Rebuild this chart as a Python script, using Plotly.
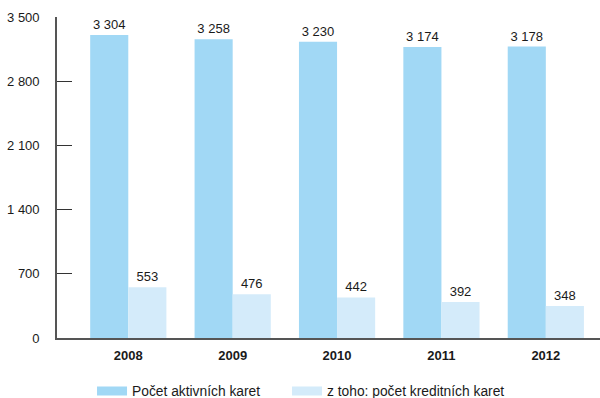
import plotly.graph_objects as go

years = ["2008", "2009", "2010", "2011", "2012"]
active_cards = [3304, 3258, 3230, 3174, 3178]
credit_cards = [553, 476, 442, 392, 348]
series_names = ["Počet aktivních karet", "z toho: počet kreditních karet"]
y_ticks = [0, 700, 1400, 2100, 2800, 3500]

dark = "#A1D8F5"
light = "#D4EBFA"
font_family = "Liberation Sans, Arial, sans-serif"
text_color = "#1a1a1a"

fig = go.Figure()
for vals, col in [(active_cards, dark), (credit_cards, light)]:
    fig.add_trace(go.Bar(
        x=list(range(len(years))), y=vals, marker_color=col, marker_line_width=0,
        texttemplate="%{y:,}", textposition="outside", cliponaxis=False,
        textfont=dict(size=13, color=text_color, family=font_family),
        showlegend=False,
    ))
for name, col, leg in zip(series_names, [dark, light], ["legend", "legend2"]):
    fig.add_trace(go.Scatter(x=[None], y=[None], mode="lines", name=name,
                             line=dict(color=col, width=9), legend=leg))

legend_common = dict(orientation="h", xanchor="left", y=-0.165, yanchor="middle",
                     font=dict(size=13.8, color=text_color, family=font_family),
                     bgcolor="rgba(0,0,0,0)")

fig.update_layout(
    width=600, height=398,
    margin=dict(l=57, r=0, t=17, b=60, autoexpand=False),
    paper_bgcolor="white", plot_bgcolor="white",
    separators=", ",
    barmode="group", bargap=0.27, bargroupgap=0,
    font=dict(family=font_family, size=13, color=text_color),
    showlegend=True,
    legend=dict(x=0.0645, **legend_common),
    legend2=dict(x=0.4236, **legend_common),
)
fig.update_xaxes(
    tickmode="array", tickvals=list(range(len(years))), ticktext=years,
    range=[-0.683, 4.519], showline=True, linecolor="#555555", linewidth=1.6,
    ticks="", showgrid=False, zeroline=False,
    tickfont=dict(size=13, color=text_color, family=font_family, weight="bold"),
    ticklabelstandoff=5,
)
fig.update_yaxes(
    range=[0, 3500], tickmode="array", tickvals=y_ticks, tickformat=",d",
    showline=True, linecolor="#555555", linewidth=1.6,
    ticks="inside", ticklen=15, tickcolor="#333333", tickwidth=1.2,
    showgrid=False, zeroline=False, ticklabelstandoff=13,
    tickfont=dict(size=13, color=text_color, family=font_family),
)
fig.write_html("out.html")
